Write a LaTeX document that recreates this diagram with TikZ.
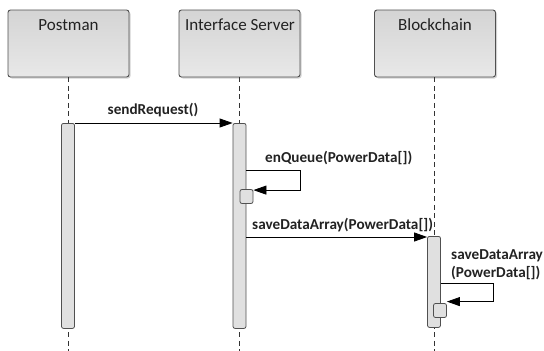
\documentclass[tikz,border=0pt]{standalone}
\usepackage{fontspec}
\setmainfont{Carlito}
\usetikzlibrary{arrows.meta,shadows,calc}
\definecolor{boxtop}{HTML}{D4D4D4}
\definecolor{boxbot}{HTML}{E8E8E8}
\definecolor{edge}{HTML}{505050}
\definecolor{actfill}{HTML}{E0E0E0}
\definecolor{txt}{HTML}{222222}
\tikzset{
  actor/.style={draw=edge, line width=0.9pt, rounded corners=2.5pt,
    top color=boxtop, bottom color=boxbot, minimum width=121pt, minimum height=67pt,
    inner sep=0pt, drop shadow={shadow xshift=1.5pt, shadow yshift=-1.5pt, opacity=0.35}},
  actlabel/.style={font=\fontsize{17}{19}\selectfont, text=txt, anchor=center, inner sep=0pt},
  life/.style={draw=black!80, line width=0.8pt, dash pattern=on 5pt off 3.5pt},
  activ/.style={draw=edge, line width=0.8pt, fill=actfill, rounded corners=2pt,
    minimum width=13pt, inner sep=0pt, anchor=north},
  smallbox/.style={draw=edge, line width=0.8pt, fill=actfill, rounded corners=2pt,
    minimum width=13pt, minimum height=14pt, inner sep=0pt},
  msg/.style={draw=black, line width=0.8pt, -{Triangle[length=13pt,width=9pt]}},
  msglabel/.style={font=\fontsize{15.2}{18}\selectfont\bfseries, text=txt, inner sep=0pt},
}
\begin{document}
\begin{tikzpicture}[x=1pt,y=-1pt]
\useasboundingbox (0,0) rectangle (544,351);
% actor boxes
\node[actor] (P) at (68.5,43.5) {};
\node[actor] (I) at (239.5,43.5) {};
\node[actor] (B) at (435,43.5) {};
\node[actlabel] (Pl) at (68.5,25) {Postman};
\node[actlabel] (Il) at (240,25) {Interface Server};
\node[actlabel] (Bl) at (435,25) {Blockchain};
% lifeline ends
\coordinate (Pe) at (68.5,351);
\coordinate (Ie) at (239.5,351);
\coordinate (Be) at (434.5,351);
\draw[life] (P.south) -- (Pe);
\draw[life] (I.south) -- (Ie);
\draw[life] (B.south -| Be) -- (Be);
% activations
\node[activ, minimum height=205pt] (aP) at (68,123) {};
\node[activ, minimum height=205pt] (aI) at (239.5,123) {};
\node[activ, minimum height=91pt] (aB) at (434,236) {};
\node[smallbox] (s1) at (246.5,196.5) {};
\node[smallbox] (s2) at (440,310.5) {};
% messages
\draw[msg] (aP.north east) -- (aI.north west);
\node[msglabel] (m1) at (153,110) {sendRequest()};
\coordinate (c1) at ($(aI.north east)+(0,47)$);
\draw[msg] (c1) -- ++(54,0) |- ($(s1.north east)+(0,1)$);
\node[msglabel, anchor=west] (m2) at (265,158) {enQueue(PowerData[])};
\coordinate (c2) at ($(aI.north east)+(0,114)$);
\draw[msg] (c2) -- (c2 -| aB.west);
\node[msglabel, anchor=west] (m3) at (252,225) {saveDataArray(PowerData[])};
\coordinate (c3) at ($(aB.north east)+(0,47)$);
\draw[msg] (c3) -- ++(52,0) |- ($(s2.north east)+(0,-1.5)$);
\node[msglabel, anchor=west, align=left] (m4) at (451,265) {saveDataArray\\(PowerData[])};
\end{tikzpicture}
\end{document}
